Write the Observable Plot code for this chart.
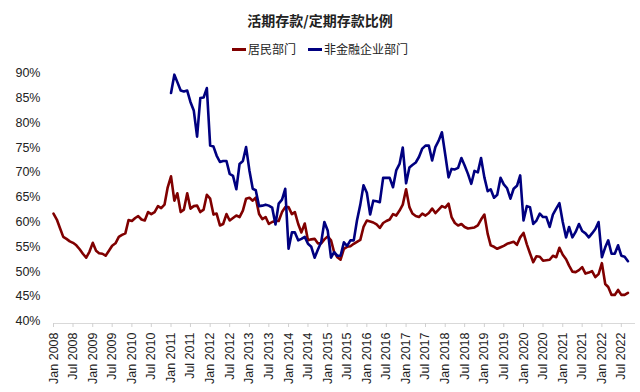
<!DOCTYPE html>
<html>
<head>
<meta charset="utf-8">
<script src="https://cdn.jsdelivr.net/npm/d3@7"></script>
<script src="https://cdn.jsdelivr.net/npm/@observablehq/plot@0.6"></script>
<style>
  html, body { margin: 0; padding: 0; background: #fff; }
  body { width: 640px; height: 392px; overflow: hidden; font-family: "Liberation Sans", Arial, "Noto Sans CJK SC", sans-serif; }
  #title { height: 24px; padding-top: 10px; line-height: 20px; text-align: center; font: bold 14px "Noto Sans CJK SC", sans-serif; color: #222; }
  #legend { height: 20px; padding-top: 6px; line-height: 16px; text-align: center; font: 12px "Noto Sans CJK SC", sans-serif; color: #222; }
  .item { display: inline-block; margin: 0 6px; }
  .sw { display: inline-block; width: 14px; height: 3px; vertical-align: middle; margin-right: 2px; position: relative; top: -1px; }
  svg { display: block; }
</style>
</head>
<body>
<div id="title"></div>
<div id="legend"></div>
<div id="chart"></div>
<script>
const chartTitle = "活期存款/定期存款比例";
const seriesNames = ["居民部门", "非金融企业部门"];
const seriesColors = ["#800000", "#000080"];

// 居民部门: monthly, starting Jan 2008 (percent)
const householdStart = "2008-01";
const household = [
  61.7, 60.5, 58.8, 57.0, 56.6, 56.1, 55.8, 55.3, 54.5, 53.6, 52.8, 54.0,
  55.8, 54.2, 53.7, 53.6, 53.2, 54.2, 55.2, 55.7, 57.0, 57.4, 57.7, 60.4,
  60.2, 60.8, 61.2, 60.5, 60.3, 62.0, 61.6, 62.0, 63.2, 62.8, 63.5, 67.0,
  69.2, 64.3, 65.8, 62.0, 62.5, 65.8, 62.7, 63.2, 63.3, 62.0, 62.5, 65.5,
  64.7, 61.5, 61.7, 59.3, 59.6, 61.6, 60.3, 60.8, 61.3, 61.0, 62.3, 64.7,
  64.9, 64.3, 64.9, 61.6, 60.6, 61.0, 59.6, 60.0, 60.2, 60.2, 62.0, 63.0,
  63.0, 61.6, 62.0, 59.6, 57.9, 59.7, 56.3, 56.5, 56.6, 55.7, 55.7, 56.5,
  57.1, 56.3, 54.0, 52.9, 52.4, 54.6, 55.0, 55.1, 55.6, 56.0, 56.4, 59.0,
  60.3, 60.1, 59.9, 59.5, 58.8, 59.8, 60.2, 60.5, 61.6, 61.3, 62.3, 63.5,
  66.6, 63.0, 61.7, 61.2, 61.0, 61.7, 61.3, 61.8, 62.7, 61.8, 62.5, 63.2,
  62.9, 63.7, 61.0, 59.8, 59.3, 59.6, 59.0, 58.7, 58.8, 58.9, 59.3, 60.5,
  61.5, 57.6, 55.3, 55.0, 54.6, 54.9, 55.2, 55.6, 55.8, 56.0, 55.4, 56.9,
  57.8, 55.5, 53.7, 51.9, 53.1, 53.0, 52.2, 52.3, 52.4, 53.2, 52.9, 54.8,
  53.4, 52.5, 51.2, 50.0, 49.9, 50.3, 50.9, 49.6, 49.8, 50.1, 48.9, 49.5,
  51.7, 47.5, 46.9, 45.3, 45.3, 46.3, 45.3, 45.3, 45.7
];

// 非金融企业部门: monthly, starting Jan 2011 (percent)
const corporateStart = "2011-01";
const corporate = [
  86.0, 89.7, 88.2, 86.5, 86.3, 86.5, 84.2, 82.5, 77.2, 85.0, 85.1, 87.0,
  75.4, 75.2, 73.4, 72.1, 72.3, 72.3, 69.7, 69.3, 66.6, 71.7, 72.3, 75.1,
  70.4, 66.7, 66.4, 63.2, 63.3, 63.5, 63.3, 62.9, 59.5, 63.7, 64.5, 66.7,
  54.6, 57.9, 57.9, 56.3, 56.6, 57.0, 55.6, 55.0, 52.8, 54.4, 55.9, 60.0,
  58.3, 52.8, 53.9, 53.2, 53.2, 55.9, 55.2, 56.3, 56.3, 60.3, 63.5, 67.4,
  65.9, 61.5, 64.3, 64.2, 64.0, 68.9, 68.9, 68.9, 67.0, 70.4, 71.7, 75.0,
  67.8, 71.0, 71.5, 72.0, 73.1, 74.8, 75.4, 75.4, 72.4, 75.1, 76.4, 78.1,
  73.6, 69.0, 70.7, 70.6, 70.9, 72.9, 71.4, 69.7, 67.7, 70.3, 70.0, 72.9,
  69.0, 66.2, 66.6, 64.9, 65.5, 68.9, 67.6, 66.8, 64.7, 66.7, 67.3, 69.4,
  60.3, 63.2, 63.0, 59.6, 60.3, 61.7, 61.0, 61.0, 59.0, 61.5, 62.7, 63.8,
  60.0, 56.9, 59.0, 56.9, 58.0, 59.6, 58.2, 57.7, 56.9, 57.7, 58.6, 60.0,
  52.9, 54.9, 56.3, 53.6, 53.6, 55.3, 53.2, 53.0, 52.1
];

const yTicks = [0.40, 0.45, 0.50, 0.55, 0.60, 0.65, 0.70, 0.75, 0.80, 0.85, 0.90];
const xDomain = ["2008-01", "2022-11"];

const parseM = d3.utcParse("%Y-%m");
function toRows(start, vals, name) {
  const s = parseM(start);
  return vals.map((v, i) => ({ date: d3.utcMonth.offset(s, i), value: v / 100, series: name }));
}
const rowsH = toRows(householdStart, household, seriesNames[0]);
const rowsC = toRows(corporateStart, corporate, seriesNames[1]);

document.getElementById("title").textContent = chartTitle;
const lg = document.getElementById("legend");
seriesNames.forEach((n, i) => {
  const it = document.createElement("span");
  it.className = "item";
  const sw = document.createElement("span");
  sw.className = "sw";
  sw.style.background = seriesColors[i];
  it.appendChild(sw);
  it.appendChild(document.createTextNode(n));
  lg.appendChild(it);
});

const H = 332;
const chart = Plot.plot({
  width: 640,
  height: H,
  marginLeft: 53,
  marginRight: 6,
  marginTop: 10,
  marginBottom: 69,
  style: { fontFamily: "'Liberation Sans', Arial, sans-serif", fontSize: "12.5px", color: "#222", background: "#fff" },
  x: { type: "utc", domain: xDomain.map(parseM), label: null },
  y: { domain: [0.4, 0.9], range: [H - 71.3, 12.7], label: null },
  marks: [
    Plot.frame({ anchor: "bottom", stroke: "#d9d9d9" }),
    Plot.axisY({ ticks: yTicks, tickFormat: d3.format(".0%"), tickSize: 0, tickPadding: 13, fontSize: 12.5, label: null }),
    Plot.axisX({ ticks: d3.utcMonth.every(6), tickFormat: d3.utcFormat("%b %Y"), tickRotate: -90, tickSize: 4, tickPadding: 5, stroke: "#d0d0d0", fill: "#222", fontSize: 12.5, label: null }),
    Plot.line(rowsH, { x: "date", y: "value", stroke: seriesColors[0], strokeWidth: 2.6 }),
    Plot.line(rowsC, { x: "date", y: "value", stroke: seriesColors[1], strokeWidth: 2.6 })
  ]
});
document.getElementById("chart").appendChild(chart);
</script>
</body>
</html>
